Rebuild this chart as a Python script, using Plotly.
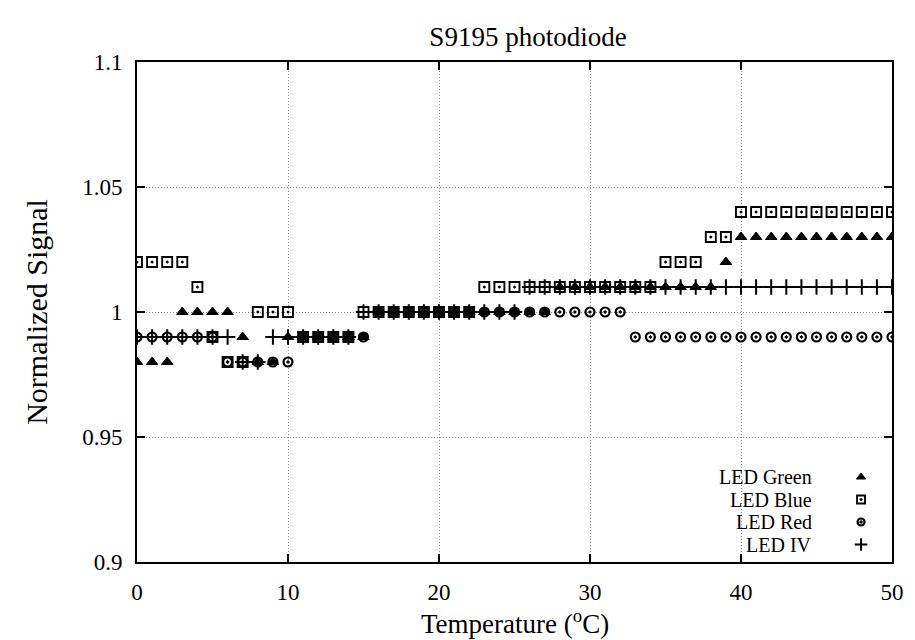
import plotly.graph_objects as go

temperature = list(range(0, 51))

led_green = ([0.98]*3 + [1.00]*4 + [0.99] + [0.98]*2 + [0.99]*6 +
             [1.00]*12 + [1.01]*11 + [1.02] + [1.03]*11)
led_blue = ([1.02]*4 + [1.01] + [0.99] + [0.98]*2 + [1.00]*3 + [0.99]*4 +
            [1.00]*8 + [1.01]*12 + [1.02]*3 + [1.03]*2 + [1.04]*11)
led_red = ([0.99]*6 + [0.98]*5 + [0.99]*5 + [1.00]*17 + [0.99]*18)
led_iv = ([0.99]*7 + [0.98]*2 + [0.99]*6 + [1.00]*11 + [1.01]*25)

series_names = ["LED Green", "LED Blue", "LED Red", "LED IV"]
series_values = [led_green, led_blue, led_red, led_iv]
series_symbols = ["triangle-up", "square-open-dot", "circle-open-dot", "cross-thin-open"]
series_sizes = [10, 10, 9, 11]
series_widths = [1.0, 1.9, 2.2, 2.0]

x_ticks = [0, 10, 20, 30, 40, 50]
y_ticks = [0.9, 0.95, 1.0, 1.05, 1.1]
y_tick_labels = ["0.9", "0.95", "1", "1.05", "1.1"]

FONT = "Liberation Serif, Times New Roman, serif"

fig = go.Figure()
for name, vals, sym, sz, lw in zip(series_names, series_values, series_symbols,
                                   series_sizes, series_widths):
    fig.add_trace(go.Scatter(
        x=temperature, y=vals, mode="markers", name=name,
        marker=dict(symbol=sym, size=sz, color="black",
                    line=dict(color="black", width=lw)),
        showlegend=False,
    ))

# legend keys (drawn in an overlay axis with 0..1 range)
legend_rows = [0.170, 0.125, 0.080, 0.035]
for name, sym, sz, lw, ly in zip(series_names, series_symbols, series_sizes,
                                 series_widths, legend_rows):
    fig.add_trace(go.Scatter(
        x=[0.959], y=[ly], xaxis="x2", yaxis="y2", mode="markers",
        marker=dict(symbol=sym, size=sz - 2, color="black",
                    line=dict(color="black", width=lw)),
        showlegend=False, hoverinfo="skip",
    ))
    fig.add_annotation(x=0.896, y=ly, xref="x2", yref="y2", text=name,
                       showarrow=False, xanchor="right", yanchor="middle",
                       borderpad=0,
                       font=dict(family=FONT, size=20, color="black"))

# axis titles
fig.add_annotation(x=0.5, y=-0.12, xref="paper", yref="paper",
                   text="Temperature (<sup>o</sup>C)", showarrow=False,
                   xanchor="center", yanchor="middle",
                   font=dict(family=FONT, size=27, color="black"))
fig.add_annotation(x=-0.134, y=0.5, xref="paper", yref="paper",
                   text="Normalized Signal", showarrow=False, textangle=-90,
                   xanchor="center", yanchor="middle",
                   font=dict(family=FONT, size=30, color="black"))

grid_common = dict(showgrid=True, gridcolor="#8a8a8a", griddash="1px,2px",
                   gridwidth=1, zeroline=False, ticks="inside", ticklen=8,
                   tickwidth=1.5, tickcolor="black", showline=True,
                   linecolor="black", linewidth=2, mirror="ticks",
                   tickfont=dict(family=FONT, size=23, color="black"))

fig.update_layout(
    width=915, height=640,
    margin=dict(l=137, r=23, t=62, b=78),
    paper_bgcolor="white", plot_bgcolor="white",
    font=dict(family=FONT, size=23, color="black"),
    title=dict(text="S9195 photodiode", x=528 / 915, xref="container",
               xanchor="center", y=1 - 37 / 640, yref="container",
               yanchor="middle", font=dict(family=FONT, size=27)),
    xaxis=dict(range=[0, 50], tickvals=x_ticks, ticklabelstandoff=8,
               **grid_common),
    yaxis=dict(range=[0.9, 1.1], tickvals=y_ticks, ticktext=y_tick_labels,
               ticklabelstandoff=8, **grid_common),
    xaxis2=dict(range=[0, 1], overlaying="x", visible=False, fixedrange=True),
    yaxis2=dict(range=[0, 1], overlaying="y", visible=False, fixedrange=True),
)

fig.write_html("out.html", config={"displayModeBar": False},
               post_script="document.body.style.margin='0';")
